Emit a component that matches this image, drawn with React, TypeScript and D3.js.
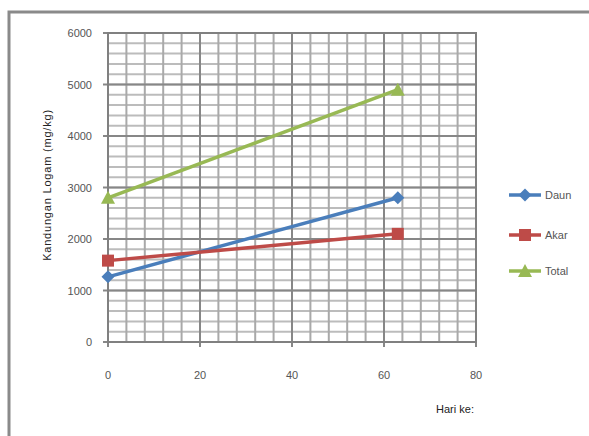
import React from "react";
import * as d3 from "d3";

const days = [0, 63];
const daun = [1265, 2800];
const akar = [1580, 2100];
const total = [2800, 4900];
const seriesNames = ["Daun", "Akar", "Total"];
const seriesColors = ["#4a7ebb", "#be4b48", "#98b954"];
const xTicks = [0, 20, 40, 60, 80];
const yTicks = [0, 1000, 2000, 3000, 4000, 5000, 6000];
const xTitle = "Hari ke:";
const yTitle = "Kandungan Logam (mg/kg)";

const W = 589, H = 436;
const m = { left: 108, right: 476, top: 33, bottom: 342 };

export default function App() {
  const x = d3.scaleLinear().domain([0, 80]).range([m.left, m.right]);
  const y = d3.scaleLinear().domain([0, 6000]).range([m.bottom, m.top]);
  const xMinor = d3.range(0, 81, 4);
  const yMinor = d3.range(0, 6001, 200);
  const data = [daun, akar, total];
  const line = d3.line<[number, number]>().x(d => x(d[0])).y(d => y(d[1]));
  const font = "'Liberation Sans', Arial, sans-serif";

  const marker = (i: number, cx: number, cy: number, key: string) => {
    const c = seriesColors[i];
    if (i === 0) {
      const s = 6.5;
      return <path key={key} d={`M${cx},${cy - s}L${cx + s},${cy}L${cx},${cy + s}L${cx - s},${cy}Z`} fill={c} />;
    }
    if (i === 1) {
      return <rect key={key} x={cx - 6} y={cy - 6} width={12} height={12} fill={c} />;
    }
    return <path key={key} d={`M${cx},${cy - 7}L${cx + 7},${cy + 6}L${cx - 7},${cy + 6}Z`} fill={c} />;
  };

  const legendY = [195, 235, 271];

  return (
    <svg width={W} height={H} style={{ position: "fixed", left: 0, top: 0, background: "#fff" }} fontFamily={font}>
      <rect x={0} y={0} width={W} height={H} fill="#fff" />
      <rect x={9} y={12} width={620} height={460} fill="#fff" stroke="#8a8a8a" strokeWidth={3} />
      {/* minor grid */}
      {yMinor.map(v => (
        <line key={"ym" + v} x1={m.left} x2={m.right} y1={y(v)} y2={y(v)} stroke="#bcbcbc" strokeWidth={2} />
      ))}
      {xMinor.map(v => (
        <line key={"xm" + v} x1={x(v)} x2={x(v)} y1={m.top} y2={m.bottom} stroke="#a9a9a9" strokeWidth={2} />
      ))}
      {/* major grid */}
      {yTicks.map(v => (
        <line key={"yM" + v} x1={m.left - 5} x2={m.right} y1={y(v)} y2={y(v)} stroke="#878787" strokeWidth={2} />
      ))}
      {xTicks.map(v => (
        <line key={"xM" + v} x1={x(v)} x2={x(v)} y1={m.top} y2={m.bottom + 5} stroke="#878787" strokeWidth={2} />
      ))}
      <rect x={m.left} y={m.top} width={m.right - m.left} height={m.bottom - m.top} fill="none" stroke="#808080" strokeWidth={2} />
      {/* tick labels */}
      {yTicks.map(v => (
        <text key={"yl" + v} x={92} y={y(v) + 4} textAnchor="end" fontSize={11} fill="#555">{v}</text>
      ))}
      {xTicks.map(v => (
        <text key={"xl" + v} x={x(v)} y={379} textAnchor="middle" fontSize={11} fill="#555">{v}</text>
      ))}
      <text x={455} y={413} textAnchor="middle" fontSize={11} fill="#222">{xTitle}</text>
      <text transform={`translate(51,185) rotate(-90)`} textAnchor="middle" fontSize={11} letterSpacing={0.8} fill="#222">{yTitle}</text>
      {/* series */}
      {data.map((vals, i) => {
        const pts = days.map((d, j) => [d, vals[j]] as [number, number]);
        return (
          <g key={"s" + i}>
            <path d={line(pts) || ""} fill="none" stroke={seriesColors[i]} strokeWidth={3.5} />
            {pts.map((p, j) => marker(i, x(p[0]), y(p[1]), "mk" + i + "_" + j))}
          </g>
        );
      })}
      {/* legend */}
      {seriesNames.map((n, i) => (
        <g key={"lg" + i}>
          <line x1={509} x2={541} y1={legendY[i]} y2={legendY[i]} stroke={seriesColors[i]} strokeWidth={3.5} />
          {marker(i, 525, legendY[i], "lm" + i)}
          <text x={545} y={legendY[i] + 4} fontSize={11} fill="#555">{n}</text>
        </g>
      ))}
    </svg>
  );
}
